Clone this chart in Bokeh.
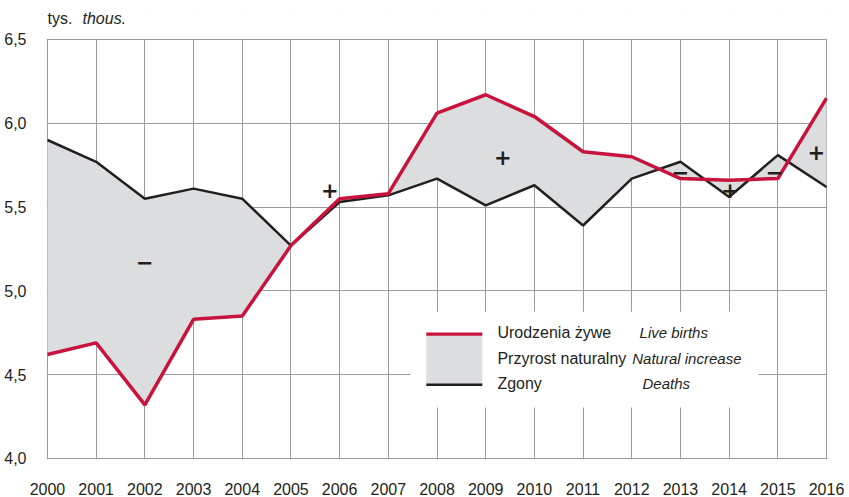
from bokeh.plotting import figure
from bokeh.models import FixedTicker, Label, BoxAnnotation
from bokeh.embed import file_html
from bokeh.resources import INLINE

years = list(range(2000, 2017))
births = [4.62, 4.69, 4.32, 4.83, 4.85, 5.27, 5.55, 5.58, 6.06, 6.17, 6.04, 5.83, 5.80, 5.67, 5.66, 5.67, 6.15]
deaths = [5.90, 5.77, 5.55, 5.61, 5.55, 5.27, 5.53, 5.57, 5.67, 5.51, 5.63, 5.39, 5.67, 5.77, 5.56, 5.81, 5.62]
y_ticks = [4.0, 4.5, 5.0, 5.5, 6.0, 6.5]
y_tick_labels = ["4,0", "4,5", "5,0", "5,5", "6,0", "6,5"]

signs = ["−", "+", "+", "−", "+", "−", "+"]
sign_x = [2002.0, 2005.8, 2009.35, 2013.0, 2014.02, 2014.93, 2015.79]
sign_y = [5.17, 5.60, 5.80, 5.71, 5.60, 5.71, 5.83]

RED = "#C8143C"
BLACK = "#231F20"
FILL = "#DCDDDF"
GRID = "#9B9B9B"
FONT = "Liberation Sans"

Y_TOP = 6.5 + 31 / 168.0  # headroom above the 6,5 line for the unit caption

p = figure(width=849, height=497, output_backend="svg", toolbar_location=None,
           x_range=(2000 - 0.02, 2016 + 0.02), y_range=(4.0 - 0.006, Y_TOP),
           min_border_left=46, min_border_right=22, min_border_top=8, min_border_bottom=37)
p.outline_line_color = None
p.background_fill_color = "white"
p.border_fill_color = "white"

p.varea(x=years, y1=births, y2=deaths, fill_color=FILL)
p.line(years, deaths, line_color=BLACK, line_width=2.5)
p.line(years, births, line_color=RED, line_width=3.5)

p.xaxis.ticker = FixedTicker(ticks=years)
p.yaxis.ticker = FixedTicker(ticks=y_ticks)
p.yaxis.major_label_overrides = {t: l for t, l in zip(y_ticks, y_tick_labels)}
p.xaxis.major_label_overrides = {y: str(y) for y in years}
for ax in (p.xaxis, p.yaxis):
    ax.axis_line_color = None
    ax.major_tick_line_color = None
    ax.minor_tick_line_color = None
    ax.major_label_text_font = FONT
    ax.major_label_text_font_size = "16px"
    ax.major_label_text_color = "#231F20"
p.xaxis.major_label_standoff = 17
p.yaxis.major_label_standoff = 14

p.xgrid.ticker = FixedTicker(ticks=years)
p.ygrid.ticker = FixedTicker(ticks=y_ticks)
p.grid.grid_line_color = GRID
p.grid.grid_line_width = 1

# white strip hiding the grid above 6,5
p.add_layout(BoxAnnotation(bottom=6.503, top=Y_TOP + 0.1, left=1999, right=2017,
                           fill_color="white", fill_alpha=1, line_color=None))

for s, sx, sy in zip(signs, sign_x, sign_y):
    p.add_layout(Label(x=sx, y=sy, text=s, text_font="DejaVu Sans", text_font_style="bold",
                       text_font_size="21px", text_align="center", text_baseline="middle",
                       text_color=BLACK))

# unit caption
p.add_layout(Label(x=2000.0, y=6.625, text="tys.", text_font=FONT, text_font_size="16px",
                   text_baseline="middle", text_color=BLACK))
p.add_layout(Label(x=2000.72, y=6.625, text="thous.", text_font=FONT, text_font_size="16px",
                   text_font_style="italic", text_baseline="middle", text_color=BLACK))

# legend
p.add_layout(BoxAnnotation(left=2007.455, right=2014.60, bottom=4.304, top=4.875,
                           fill_color="white", fill_alpha=1, line_color=None))
p.add_layout(BoxAnnotation(left=2007.78, right=2008.93, bottom=4.44, top=4.744,
                           fill_color=FILL, fill_alpha=1, line_color=None))
p.add_layout(BoxAnnotation(left=2007.78, right=2008.93, bottom=4.732, top=4.752,
                           fill_color=RED, fill_alpha=1, line_color=None))
p.add_layout(BoxAnnotation(left=2007.78, right=2008.93, bottom=4.432, top=4.448,
                           fill_color=BLACK, fill_alpha=1, line_color=None))
leg_pl = ["Urodzenia żywe", "Przyrost naturalny", "Zgony"]
leg_en = ["Live births", "Natural increase", "Deaths"]
leg_y = [4.75, 4.595, 4.446]
leg_en_x = [2012.16, 2012.01, 2012.22]
for t, e, ly, ex in zip(leg_pl, leg_en, leg_y, leg_en_x):
    p.add_layout(Label(x=2009.24, y=ly, text=t, text_font=FONT, text_font_size="16px",
                       text_baseline="middle", text_color=BLACK))
    p.add_layout(Label(x=ex, y=ly, text=e, text_font=FONT, text_font_size="15px",
                       text_font_style="italic", text_baseline="middle", text_color=BLACK))

open("out.html", "w").write(file_html(p, INLINE))
